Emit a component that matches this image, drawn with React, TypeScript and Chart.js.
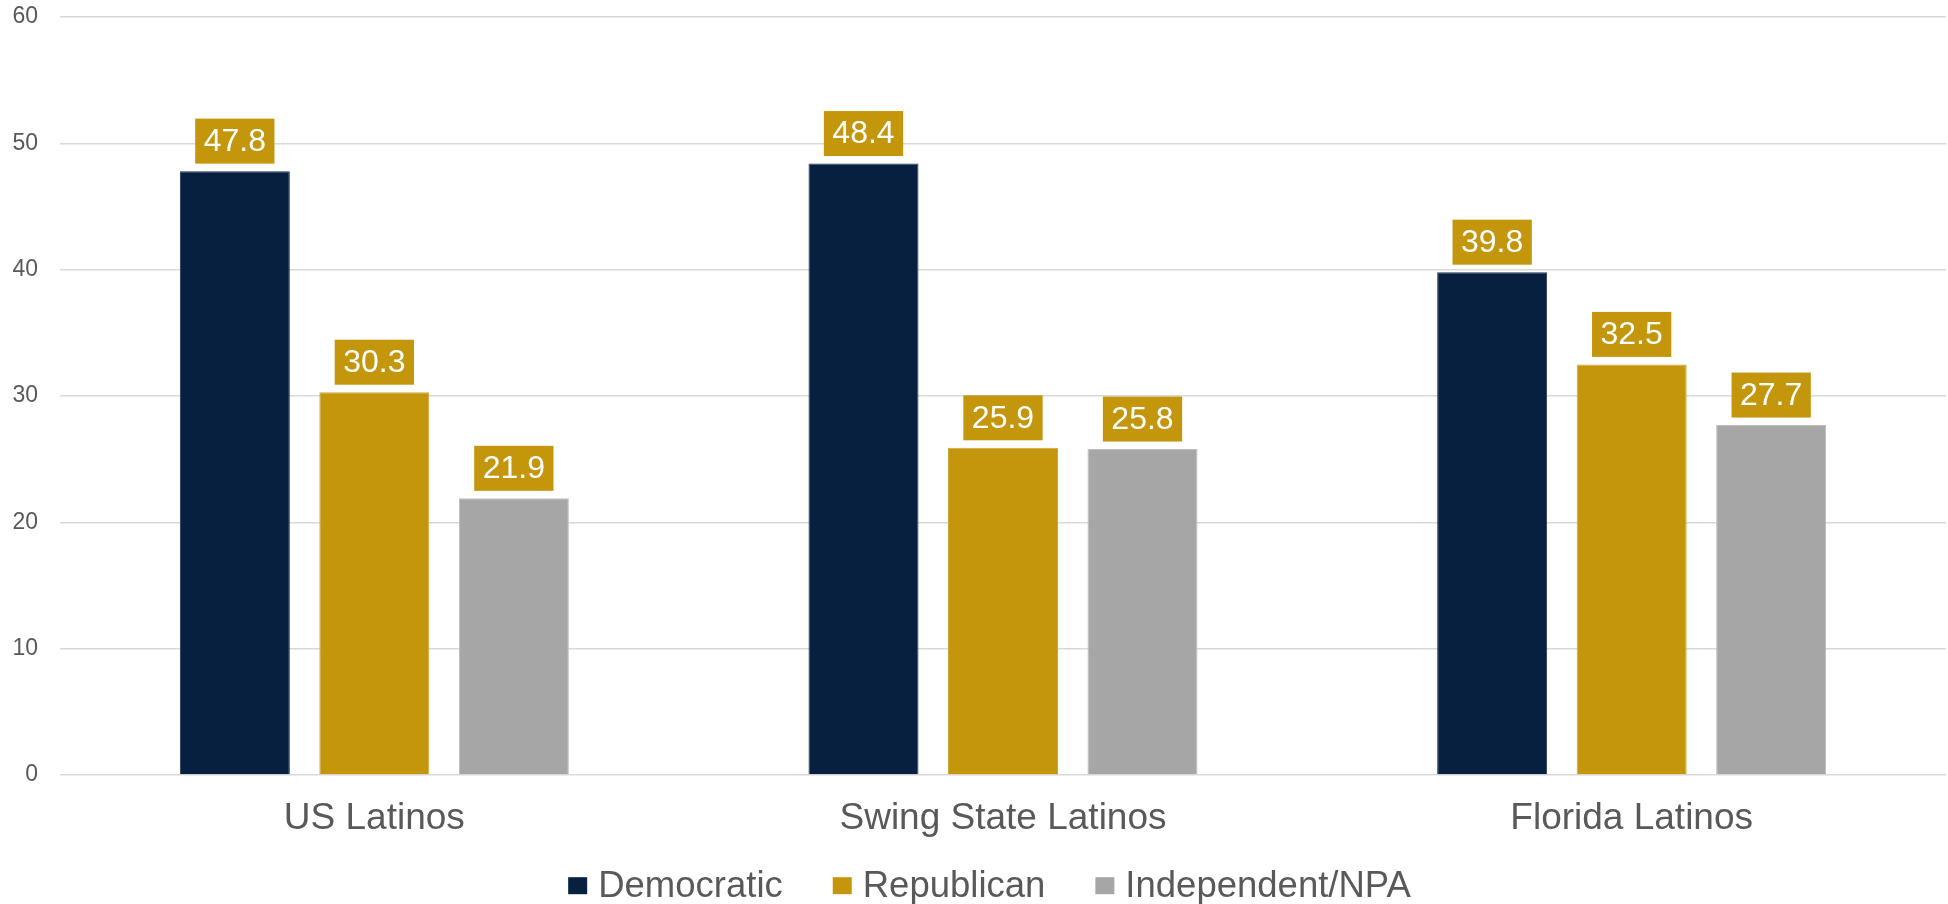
import React, { useEffect, useRef } from "react";
import { Chart, registerables } from "chart.js";

Chart.register(...registerables);

const categories = ["US Latinos", "Swing State Latinos", "Florida Latinos"];
const seriesNames = ["Democratic", "Republican", "Independent/NPA"];
const democratic = [47.8, 48.4, 39.8];
const republican = [30.3, 25.9, 32.5];
const independent = [21.9, 25.8, 27.7];
const yTicks = [0, 10, 20, 30, 40, 50, 60];

const COLORS = ["#08203F", "#C4960C", "#A6A6A6"];
const BORDERS = ["#1E3452", "#CFA535", "#BDBDBD"];
const FONT = "'Liberation Sans', Arial, sans-serif";
const TEXT = "#595959";
const LABEL_BG = "#C4960C";

const dataLabelPlugin = {
  id: "boxLabels",
  afterDatasetsDraw(chart: any) {
    const ctx = chart.ctx;
    ctx.save();
    ctx.font = `32px ${FONT}`;
    ctx.textAlign = "center";
    ctx.textBaseline = "middle";
    chart.data.datasets.forEach((ds: any, di: number) => {
      const meta = chart.getDatasetMeta(di);
      meta.data.forEach((el: any, i: number) => {
        const txt = Number(ds.data[i]).toFixed(1);
        const w = ctx.measureText(txt).width + 17;
        const h = 45;
        const bottom = el.y - 7.5;
        const top = bottom - h;
        ctx.fillStyle = LABEL_BG;
        ctx.fillRect(el.x - w / 2, top, w, h);
        ctx.fillStyle = "#FFFFFF";
        ctx.fillText(txt, el.x, top + h / 2 + 1);
      });
    });
    ctx.restore();
  },
};

// Legend drawn from the chart's own datasets (labels + colours)
const legendPlugin = {
  id: "bottomLegend",
  afterDraw(chart: any) {
    const ctx = chart.ctx;
    const fontSize = 36.5;
    const boxW = 19;
    const boxH = 17;
    const boxGap = 11;
    const itemGap = 50;
    const centerX = 989.5;
    const boxCenterY = 885.7;
    const baseline = 896.7;
    ctx.save();
    ctx.font = `${fontSize}px ${FONT}`;
    const items = chart.data.datasets.map((ds: any) => ({
      text: ds.label,
      color: ds.backgroundColor,
      w: ctx.measureText(ds.label).width,
    }));
    const total =
      items.reduce((s: number, it: any) => s + boxW + boxGap + it.w, 0) + itemGap * (items.length - 1);
    let x = centerX - total / 2;
    items.forEach((it: any) => {
      ctx.fillStyle = it.color;
      ctx.fillRect(x, boxCenterY - boxH / 2, boxW, boxH);
      const tx = x + boxW + boxGap;
      ctx.fillStyle = TEXT;
      ctx.textAlign = "left";
      ctx.textBaseline = "alphabetic";
      ctx.fillText(it.text, tx, baseline);
      x = tx + it.w + itemGap;
    });
    ctx.restore();
  },
};

export default function App() {
  const ref = useRef<HTMLCanvasElement | null>(null);

  useEffect(() => {
    if (!ref.current) return;
    const seriesValues = [democratic, republican, independent];
    const chart = new Chart(ref.current, {
      type: "bar",
      data: {
        labels: categories,
        datasets: seriesNames.map((name, i) => ({
          label: name,
          data: seriesValues[i],
          backgroundColor: COLORS[i],
          borderColor: BORDERS[i],
          borderWidth: 1,
          categoryPercentage: 0.6657,
          barPercentage: 0.7885,
        })),
      },
      options: {
        responsive: false,
        maintainAspectRatio: false,
        animation: false,
        devicePixelRatio: 1,
        layout: { padding: { left: 0, right: 2, top: 17, bottom: 59 } },
        plugins: {
          tooltip: { enabled: false },
          legend: { display: false },
        },
        scales: {
          x: {
            grid: { display: false, drawTicks: false },
            border: { display: false },
            ticks: {
              color: TEXT,
              padding: 22,
              font: { family: FONT, size: 37 },
            },
            afterFit: (s: any) => {
              s.height = 70;
            },
          },
          y: {
            min: 0,
            max: 60,
            afterBuildTicks: (s: any) => {
              s.ticks = yTicks.map((v) => ({ value: v }));
            },
            grid: { color: "#D9D9D9", lineWidth: 1.5, drawTicks: false },
            border: { display: false },
            ticks: {
              color: TEXT,
              padding: 22,
              font: { family: FONT, size: 23 },
            },
            afterFit: (s: any) => {
              s.width = 60;
              s.paddingTop = 0;
              s.paddingBottom = 0;
            },
          },
        },
      },
      plugins: [dataLabelPlugin, legendPlugin],
    });
    return () => chart.destroy();
  }, []);

  return (
    <div style={{ position: "fixed", left: 0, top: 0, width: 1948, height: 904, background: "#FFFFFF" }}>
      <canvas ref={ref} width={1948} height={904} style={{ display: "block" }} />
    </div>
  );
}
